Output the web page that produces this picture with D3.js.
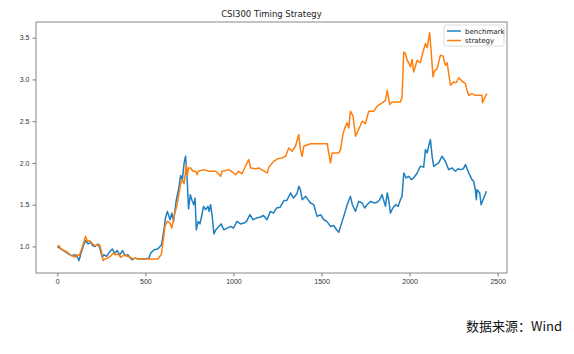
<!DOCTYPE html>
<html>
<head>
<meta charset="utf-8">
<script src="https://cdn.jsdelivr.net/npm/d3@7"></script>
<style>
  body { margin: 0; background: #fff; }
  svg { display: block; font-family: "DejaVu Sans", sans-serif; }
</style>
</head>
<body>
<div id="chart"></div>
<script>
// [trading day, net value]
const benchmark = [
  [0, 1.0], [20, 0.97], [50, 0.93], [80, 0.89], [100, 0.9], [115, 0.87], [123, 0.83], [135, 0.92],
  [150, 1.02], [160, 1.07], [175, 1.03], [190, 1.05], [200, 1.01], [215, 1.0], [230, 1.03], [240, 0.99],
  [255, 0.87], [265, 0.9], [280, 0.88], [295, 0.93], [312, 0.97], [325, 0.92], [340, 0.95], [355, 0.9],
  [370, 0.95], [385, 0.89], [400, 0.9], [415, 0.86], [425, 0.84], [440, 0.86], [460, 0.85], [490, 0.85],
  [520, 0.86], [530, 0.92], [550, 0.96], [570, 0.97], [592, 1.02], [605, 1.2], [615, 1.35], [625, 1.42],
  [640, 1.32], [650, 1.4], [660, 1.3], [675, 1.55], [690, 1.7], [700, 1.85], [710, 1.8], [720, 2.0],
  [728, 2.08], [735, 1.9], [745, 1.45], [755, 1.62], [765, 1.55], [775, 1.5], [782, 1.58], [789, 1.2],
  [800, 1.3], [810, 1.27], [818, 1.35], [830, 1.48], [842, 1.44], [855, 1.48], [862, 1.42], [870, 1.5],
  [880, 1.35], [889, 1.15], [900, 1.2], [917, 1.24], [930, 1.27], [945, 1.2], [964, 1.22], [985, 1.24],
  [1000, 1.22], [1020, 1.3], [1040, 1.27], [1060, 1.28], [1074, 1.3], [1094, 1.38], [1110, 1.32],
  [1130, 1.34], [1150, 1.35], [1170, 1.37], [1190, 1.32], [1210, 1.42], [1227, 1.4], [1245, 1.46],
  [1265, 1.47], [1286, 1.55], [1303, 1.55], [1324, 1.64], [1341, 1.58], [1360, 1.63], [1371, 1.72],
  [1380, 1.68], [1390, 1.56], [1410, 1.6], [1437, 1.52], [1456, 1.5], [1475, 1.36], [1495, 1.38],
  [1513, 1.32], [1530, 1.3], [1551, 1.24], [1570, 1.25], [1585, 1.2], [1598, 1.17], [1608, 1.24],
  [1626, 1.36], [1646, 1.5], [1664, 1.6], [1675, 1.5], [1693, 1.42], [1711, 1.54], [1731, 1.52],
  [1745, 1.46], [1759, 1.5], [1778, 1.54], [1800, 1.52], [1816, 1.53], [1830, 1.56], [1844, 1.62],
  [1863, 1.48], [1873, 1.64], [1882, 1.55], [1891, 1.4], [1905, 1.46], [1920, 1.5], [1935, 1.48],
  [1948, 1.56], [1957, 1.6], [1967, 1.88], [1980, 1.82], [1995, 1.84], [2010, 1.8], [2023, 1.82],
  [2043, 1.88], [2061, 1.96], [2080, 1.95], [2090, 2.16], [2100, 2.12], [2108, 2.2], [2118, 2.28],
  [2128, 2.08], [2137, 1.96], [2150, 1.98], [2165, 2.0], [2184, 2.08], [2203, 2.02], [2222, 1.92],
  [2241, 1.94], [2260, 1.9], [2275, 1.93], [2288, 1.92], [2305, 1.93], [2317, 1.98], [2336, 1.88],
  [2354, 1.8], [2364, 1.78], [2373, 1.68], [2379, 1.56], [2383, 1.68], [2398, 1.64], [2406, 1.5],
  [2421, 1.58], [2436, 1.66]
];

const strategy = [
  [0, 1.0], [10, 1.01], [20, 0.97], [50, 0.94], [75, 0.9], [100, 0.87], [110, 0.9], [125, 0.89],
  [140, 0.98], [160, 1.12], [172, 1.06], [185, 1.07], [200, 1.03], [215, 1.01], [240, 1.02], [250, 0.95],
  [260, 0.83], [270, 0.85], [285, 0.86], [300, 0.88], [318, 0.92], [330, 0.9], [345, 0.91], [360, 0.87],
  [380, 0.9], [400, 0.88], [415, 0.87], [430, 0.85], [445, 0.86], [460, 0.85], [570, 0.85], [590, 0.9],
  [603, 1.1], [612, 1.25], [625, 1.3], [640, 1.28], [650, 1.22], [665, 1.38], [680, 1.5], [700, 1.75],
  [710, 1.8], [720, 1.75], [732, 1.98], [738, 1.85], [745, 1.94], [757, 1.94], [770, 1.9], [785, 1.9],
  [794, 1.86], [800, 1.9], [832, 1.92], [860, 1.9], [900, 1.9], [927, 1.84], [935, 1.9], [974, 1.92],
  [1000, 1.88], [1012, 1.86], [1030, 1.9], [1049, 1.87], [1068, 1.96], [1087, 2.04], [1097, 1.94],
  [1125, 1.93], [1144, 1.94], [1160, 1.92], [1192, 1.88], [1201, 1.95], [1229, 2.02], [1250, 2.05],
  [1277, 2.06], [1296, 2.08], [1314, 2.18], [1333, 2.14], [1352, 2.2], [1371, 2.34], [1380, 2.16],
  [1390, 2.08], [1399, 2.2], [1437, 2.23], [1532, 2.23], [1541, 2.12], [1551, 2.0], [1560, 2.12],
  [1598, 2.12], [1608, 2.16], [1623, 2.36], [1636, 2.44], [1645, 2.48], [1655, 2.42], [1664, 2.62],
  [1679, 2.56], [1693, 2.32], [1711, 2.4], [1731, 2.5], [1749, 2.47], [1768, 2.62], [1797, 2.62],
  [1816, 2.68], [1844, 2.72], [1863, 2.75], [1873, 2.87], [1887, 2.7], [1901, 2.73], [1948, 2.73],
  [1957, 2.79], [1967, 3.33], [1976, 3.31], [1986, 3.23], [1995, 3.2], [2005, 3.15], [2014, 3.24],
  [2023, 3.09], [2043, 3.23], [2052, 3.21], [2061, 3.2], [2071, 3.29], [2090, 3.43], [2100, 3.38],
  [2114, 3.56], [2122, 3.35], [2133, 3.03], [2141, 3.1], [2156, 3.13], [2175, 3.29], [2190, 3.28],
  [2203, 3.17], [2213, 3.2], [2232, 2.93], [2250, 2.97], [2265, 2.96], [2279, 3.02], [2298, 2.98],
  [2317, 2.95], [2326, 2.87], [2336, 2.81], [2354, 2.83], [2373, 2.81], [2411, 2.81], [2414, 2.72],
  [2424, 2.77], [2439, 2.83]
];

const seriesNames = ["benchmark", "strategy"];
const seriesColors = ["#1f7fc0", "#ff7f0e"];
const xTicks = [0, 500, 1000, 1500, 2000, 2500];
const yTicks = [1.0, 1.5, 2.0, 2.5, 3.0, 3.5];
const chartTitle = "CSI300 Timing Strategy";
const sourceNote = "数据来源：Wind";

const width = 574, height = 354;
const margin = { top: 22, right: 67, bottom: 81, left: 36 };
const innerWidth = width - margin.left - margin.right;
const innerHeight = height - margin.top - margin.bottom;

const svg = d3.select("#chart").append("svg")
  .attr("width", width)
  .attr("height", height);

const g = svg.append("g").attr("transform", `translate(${margin.left},${margin.top})`);

const xScale = d3.scaleLinear().domain([-121, 2553]).range([0, innerWidth]);
const yScale = d3.scaleLinear().domain([0.682, 3.688]).range([innerHeight, 0]);

// series lines
const line = d3.line().x(d => xScale(d[0])).y(d => yScale(d[1])).curve(d3.curveLinear);
[benchmark, strategy].forEach((data, i) => {
  g.append("path")
    .datum(data)
    .attr("fill", "none")
    .attr("stroke", seriesColors[i])
    .attr("stroke-width", 1.5)
    .attr("stroke-linejoin", "round")
    .attr("d", line);
});

// axes
const xAxis = g.append("g")
  .attr("transform", `translate(0,${innerHeight})`)
  .call(d3.axisBottom(xScale).tickValues(xTicks).tickSize(3.5).tickPadding(3).tickFormat(d3.format("d")));
const yAxis = g.append("g")
  .call(d3.axisLeft(yScale).tickValues(yTicks).tickSize(3.5).tickPadding(3).tickFormat(d3.format(".1f")));
[xAxis, yAxis].forEach(ax => {
  ax.select(".domain").remove();
  ax.selectAll("line").attr("stroke", "#555").attr("stroke-width", 0.8);
  ax.selectAll("text").attr("fill", "#333").style("font-size", "7px");
});

// frame
g.append("rect")
  .attr("x", 0).attr("y", 0)
  .attr("width", innerWidth).attr("height", innerHeight)
  .attr("fill", "none")
  .attr("stroke", "#888")
  .attr("stroke-width", 1);

// title
svg.append("text")
  .attr("x", margin.left + innerWidth / 2)
  .attr("y", 17)
  .attr("text-anchor", "middle")
  .attr("fill", "#222")
  .style("font-size", "8.5px")
  .text(chartTitle);

// legend
const legend = g.append("g").attr("transform", `translate(${innerWidth - 63},3)`);
legend.append("rect")
  .attr("width", 60).attr("height", 21)
  .attr("fill", "#fff").attr("fill-opacity", 0.8)
  .attr("stroke", "#ddd").attr("rx", 2);
seriesNames.forEach((name, i) => {
  const row = legend.append("g").attr("transform", `translate(3,${6 + i * 9.5})`);
  row.append("line").attr("x1", 0).attr("x2", 14).attr("stroke", seriesColors[i]).attr("stroke-width", 1.5);
  row.append("text").attr("x", 18).attr("y", 2.5).attr("fill", "#222").style("font-size", "7px").text(name);
});

// source note
svg.append("text")
  .attr("x", 562)
  .attr("y", 331)
  .attr("text-anchor", "end")
  .attr("fill", "#111")
  .style("font-family", "'Noto Sans CJK SC', 'Noto Sans', sans-serif")
  .style("font-size", "13px")
  .text(sourceNote);
</script>
</body>
</html>
